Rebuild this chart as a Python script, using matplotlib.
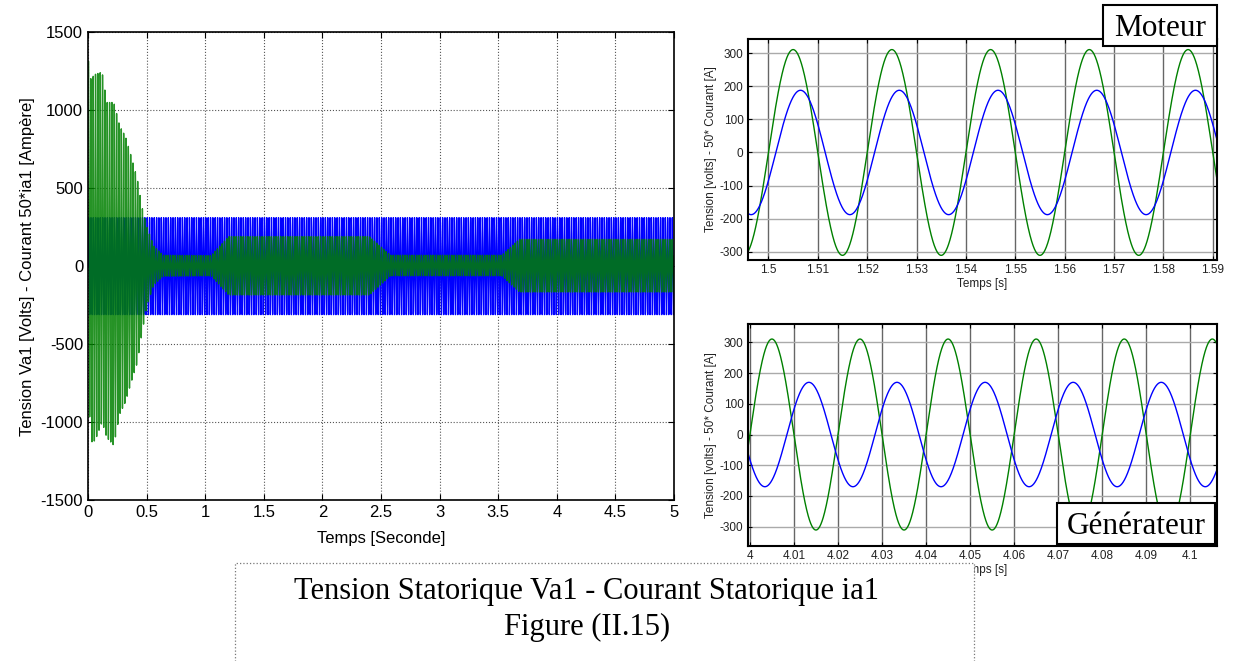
import numpy as np
import matplotlib
matplotlib.use('Agg')
import matplotlib.pyplot as plt
from matplotlib.patches import Rectangle
from matplotlib.ticker import FormatStrFormatter

# signal parameters
f_res = 50.0            # Hz
v_amp = 311.0           # tension Va1 (V)
i_amp_mot = 188.0       # 50*ia1 en moteur
i_amp_gen = 170.0       # 50*ia1 en generateur
t_v0_mot = 1.5          # passage par zero montant de la tension (moteur)
t_i0_mot = 1.5015       # passage par zero montant du courant (moteur)
t_v0_gen = 4.0
t_i0_gen = 4.0084

# enveloppe du courant 50*ia1 sur 0..5 s (vue d'ensemble)
env_t  = [0, 0.02, 0.06, 0.12, 0.16, 0.22, 0.27, 0.32, 0.37, 0.42, 0.46, 0.5, 0.56, 0.64,
          1.05, 1.2, 2.4, 2.58, 3.53, 3.68, 5.0]
env_hi = [1340, 1200, 1230, 1245, 1050, 1050, 900, 830, 700, 560, 380, 255, 130, 70,
          68, 190, 190, 70, 70, 172, 172]
env_lo = [-600, -1130, -1120, -1000, -1100, -1150, -950, -870, -740, -620, -430, -260, -120, -65,
          -62, -185, -185, -62, -62, -166, -166]

main_xticks = [0, 0.5, 1, 1.5, 2, 2.5, 3, 3.5, 4, 4.5, 5]
main_yticks = [-1500, -1000, -500, 0, 500, 1000, 1500]
zoom_yticks = [-300, -200, -100, 0, 100, 200, 300]
mot_xticks = [1.5, 1.51, 1.52, 1.53, 1.54, 1.55, 1.56, 1.57, 1.58, 1.59]
gen_xticks = [4, 4.01, 4.02, 4.03, 4.04, 4.05, 4.06, 4.07, 4.08, 4.09, 4.1]

plt.rcParams['font.family'] = ['Liberation Sans', 'DejaVu Sans']
plt.rcParams['axes.unicode_minus'] = False

fig = plt.figure(figsize=(12.33, 6.61), dpi=100)
w = 2 * np.pi * f_res

# ---- vue d'ensemble
ax = fig.add_axes([0.0714, 0.2436, 0.4753, 0.7075])
t = np.arange(0, 5.0, 1.3e-4)
hi = np.interp(t, env_t, env_hi)
lo = np.interp(t, env_t, env_lo)
ax.plot(t, v_amp * np.sin(w * t), color='#0000ff', lw=1.0)
ax.plot(t, (hi + lo) / 2 + (hi - lo) / 2 * np.sin(w * t + 0.4), color='#008000', lw=1.0,
        alpha=0.85)
ax.set_xlim(0, 5)
ax.set_ylim(-1500, 1500)
ax.set_xticks(main_xticks)
ax.set_yticks(main_yticks)
ax.xaxis.set_major_formatter(FormatStrFormatter('%g'))
ax.tick_params(direction='in', top=True, right=True, labelsize=12, length=4)
ax.grid(True, color='#555555', ls=':', lw=0.8)
ax.set_xlabel('Temps [Seconde]', fontsize=12, labelpad=8)
ax.set_ylabel('Tension Va1 [Volts] - Courant 50*ia1 [Ampère]', fontsize=12, labelpad=4)
for s in ax.spines.values():
    s.set_linewidth(1.2)


def zoom_axes(rect, t0, t1, xt, ylim, tv, ti, iamp):
    a = fig.add_axes(rect)
    tt = np.linspace(t0, t1, 2000)
    a.plot(tt, v_amp * np.sin(w * (tt - tv)), color='#008000', lw=1.0)
    a.plot(tt, iamp * np.sin(w * (tt - ti)), color='#0000ff', lw=1.0)
    a.set_xlim(t0, t1)
    a.set_ylim(*ylim)
    a.set_xticks(xt)
    a.set_yticks(zoom_yticks)
    a.xaxis.set_major_formatter(FormatStrFormatter('%g'))
    a.tick_params(direction='in', top=True, right=True, labelsize=8.5, length=3,
                  labelcolor='#222222', pad=3)
    a.xaxis.grid(True, color='#666666', lw=1.0)
    a.yaxis.grid(True, color='#aaaaaa', lw=1.0)
    a.set_xlabel('Temps [s]', fontsize=8.5, color='#222222', labelpad=1)
    a.set_ylabel('Tension [volts] - 50* Courant [A]', fontsize=8.5, color='#222222', labelpad=2)
    for s in a.spines.values():
        s.set_linewidth(1.5)
    return a


ax_m = zoom_axes([0.6064, 0.6067, 0.3804, 0.3343], 1.4958, 1.5908, mot_xticks,
                 (-325, 343), t_v0_mot, t_i0_mot, i_amp_mot)
ax_g = zoom_axes([0.6064, 0.174, 0.3804, 0.3354], 3.9995, 4.106, gen_xticks,
                 (-363, 359), t_v0_gen, t_i0_gen, i_amp_gen)


def label_box(x0, y0, x1, y1, txt):
    # boite en pixels (origine en haut a gauche)
    W, H = 1233.0, 661.0
    fig.add_artist(Rectangle((x0 / W, 1 - y1 / H), (x1 - x0) / W, (y1 - y0) / H,
                             transform=fig.transFigure, fc='white', ec='black',
                             lw=1.5, zorder=10))
    fig.text((x0 + x1) / 2 / W, 1 - (y0 + y1) / 2 / H, txt, family='Liberation Serif',
             fontsize=22.5, ha='center', va='center_baseline', zorder=11)


label_box(1103, 5, 1217, 46, 'Moteur')
label_box(1057, 503, 1215, 544, 'Générateur')

# cadre de la legende de figure
fig.add_artist(Rectangle((0.1906, -0.05), 0.5994, 0.1983, transform=fig.transFigure,
                         fc='white', ec='#777777', ls=':', lw=0.9, zorder=5))
fig.text(0.476, 0.1044, 'Tension Statorique Va1 - Courant Statorique ia1',
         family='Liberation Serif', fontsize=22, ha='center', va='center', zorder=6)
fig.text(0.476, 0.0514, 'Figure (II.15)', family='Liberation Serif', fontsize=22,
         ha='center', va='center', zorder=6)

fig.savefig('out.png', dpi=100)
